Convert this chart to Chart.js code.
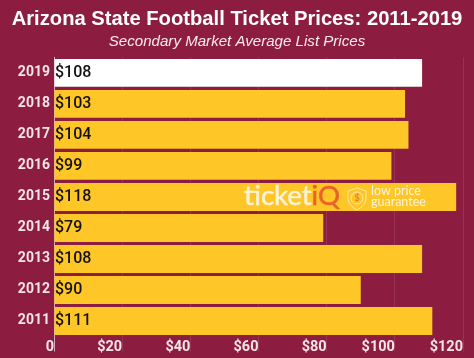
<!DOCTYPE html>
<html><head><meta charset="utf-8">
<style>html,body{margin:0;padding:0;background:#8C1D40}canvas{display:block}</style>
<script src="https://cdn.jsdelivr.net/npm/chart.js@4"></script>
</head><body><div style="width:474px;height:358px;position:relative"><canvas id="c"></canvas></div>
<script>
const years = ['2019','2018','2017','2016','2015','2014','2013','2012','2011'];
const prices = [108,103,104,99,118,79,108,90,111];
const barColors = ['#FFFFFF','#FFC627','#FFC627','#FFC627','#FFC627','#FFC627','#FFC627','#FFC627','#FFC627'];
const titleText = 'Arizona State Football Ticket Prices: 2011-2019';
const subtitleText = 'Secondary Market Average List Prices';

const valueLabels = {
  id:'valueLabels',
  afterDatasetsDraw(chart){
    const {ctx} = chart;
    ctx.save();
    ctx.font = '500 16px Roboto';
    ctx.fillStyle = '#111';
    ctx.textAlign = 'left';
    ctx.textBaseline = 'middle';
    chart.getDatasetMeta(0).data.forEach((b,i)=>{
      ctx.fillText('$'+prices[i], chart.chartArea.left+1, b.y+0.5);
    });
    ctx.restore();
  }
};
const logo = {
  id:'logo',
  afterDatasetsDraw(chart){
    const {ctx} = chart;
    ctx.save();
    ctx.textBaseline='alphabetic';
    ctx.textAlign='left';
    ctx.font='400 27.5px Lato';
    ctx.lineWidth=0.5;
    ctx.fillStyle='#FFF3D6';ctx.strokeStyle='#FFF3D6';
    ctx.fillText('ticket',244,205);ctx.strokeText('ticket',244,205);
    const w=ctx.measureText('ticket').width;
    ctx.fillStyle='#E8622A';ctx.strokeStyle='#E8622A';
    ctx.fillText('iQ',244+w,205);ctx.strokeText('iQ',244+w,205);
    // shield
    ctx.strokeStyle='#FFE9A8';ctx.lineWidth=1;
    ctx.beginPath();
    ctx.moveTo(357,188);ctx.lineTo(366,191);ctx.lineTo(366,199);
    ctx.quadraticCurveTo(365,206,357,210);
    ctx.quadraticCurveTo(349,206,348,199);ctx.lineTo(348,191);ctx.closePath();ctx.stroke();
    ctx.beginPath();ctx.arc(357,198,6,0,Math.PI*2);ctx.stroke();
    ctx.font='700 9px Lato';ctx.fillStyle='#E8822A';ctx.textAlign='center';ctx.fillText('$',357,201);
    ctx.textAlign='left';
    ctx.font='400 12.5px Lato';ctx.fillStyle='#FFF3D6';
    ctx.fillText('low price',371,195);
    ctx.fillText('guarantee',371,205.5);
    ctx.restore();
  }
};
new Chart(document.getElementById('c'),{
  type:'bar',
  data:{labels:years,datasets:[{data:prices,backgroundColor:barColors,barPercentage:0.9,categoryPercentage:1}]},
  plugins:[valueLabels,logo],
  options:{
    indexAxis:'y',responsive:true,maintainAspectRatio:false,animation:false,
    layout:{padding:{left:11,right:11,top:0,bottom:0}},
    plugins:{
      legend:{display:false},tooltip:{enabled:false},
      title:{display:true,text:titleText,color:'#FFFFFF',font:{family:'"Liberation Sans"',size:20.2,weight:'bold'},padding:{top:7,bottom:1}},
      subtitle:{display:true,text:subtitleText,color:'#FBEAF0',font:{family:'"Liberation Sans"',size:15.1,style:'italic',weight:'normal'},padding:{top:0,bottom:7}}
    },
    scales:{
      x:{min:0,max:120,
        afterFit(s){s.height=21.5;},
        ticks:{stepSize:20,align:'end',maxRotation:0,color:'#F5E4EA',padding:-13,font:{family:'Roboto',size:14.5,weight:'bold'},callback:v=>v===0?'0':'$'+v},
        grid:{color:c=>c.tick&&c.tick.value===0?'#D9A7BD':'rgba(255,255,255,0.10)',tickLength:15,drawOnChartArea:true},
        border:{display:false}},
      y:{
        afterFit(s){s.width=43;},
        ticks:{color:'#F5E4EA',padding:4,font:{family:'Roboto',size:14,weight:'bold'}},
        grid:{display:false,drawTicks:false},
        border:{display:true,color:'#D9A7BD',width:1}}
    }
  }
});
</script></body></html>
